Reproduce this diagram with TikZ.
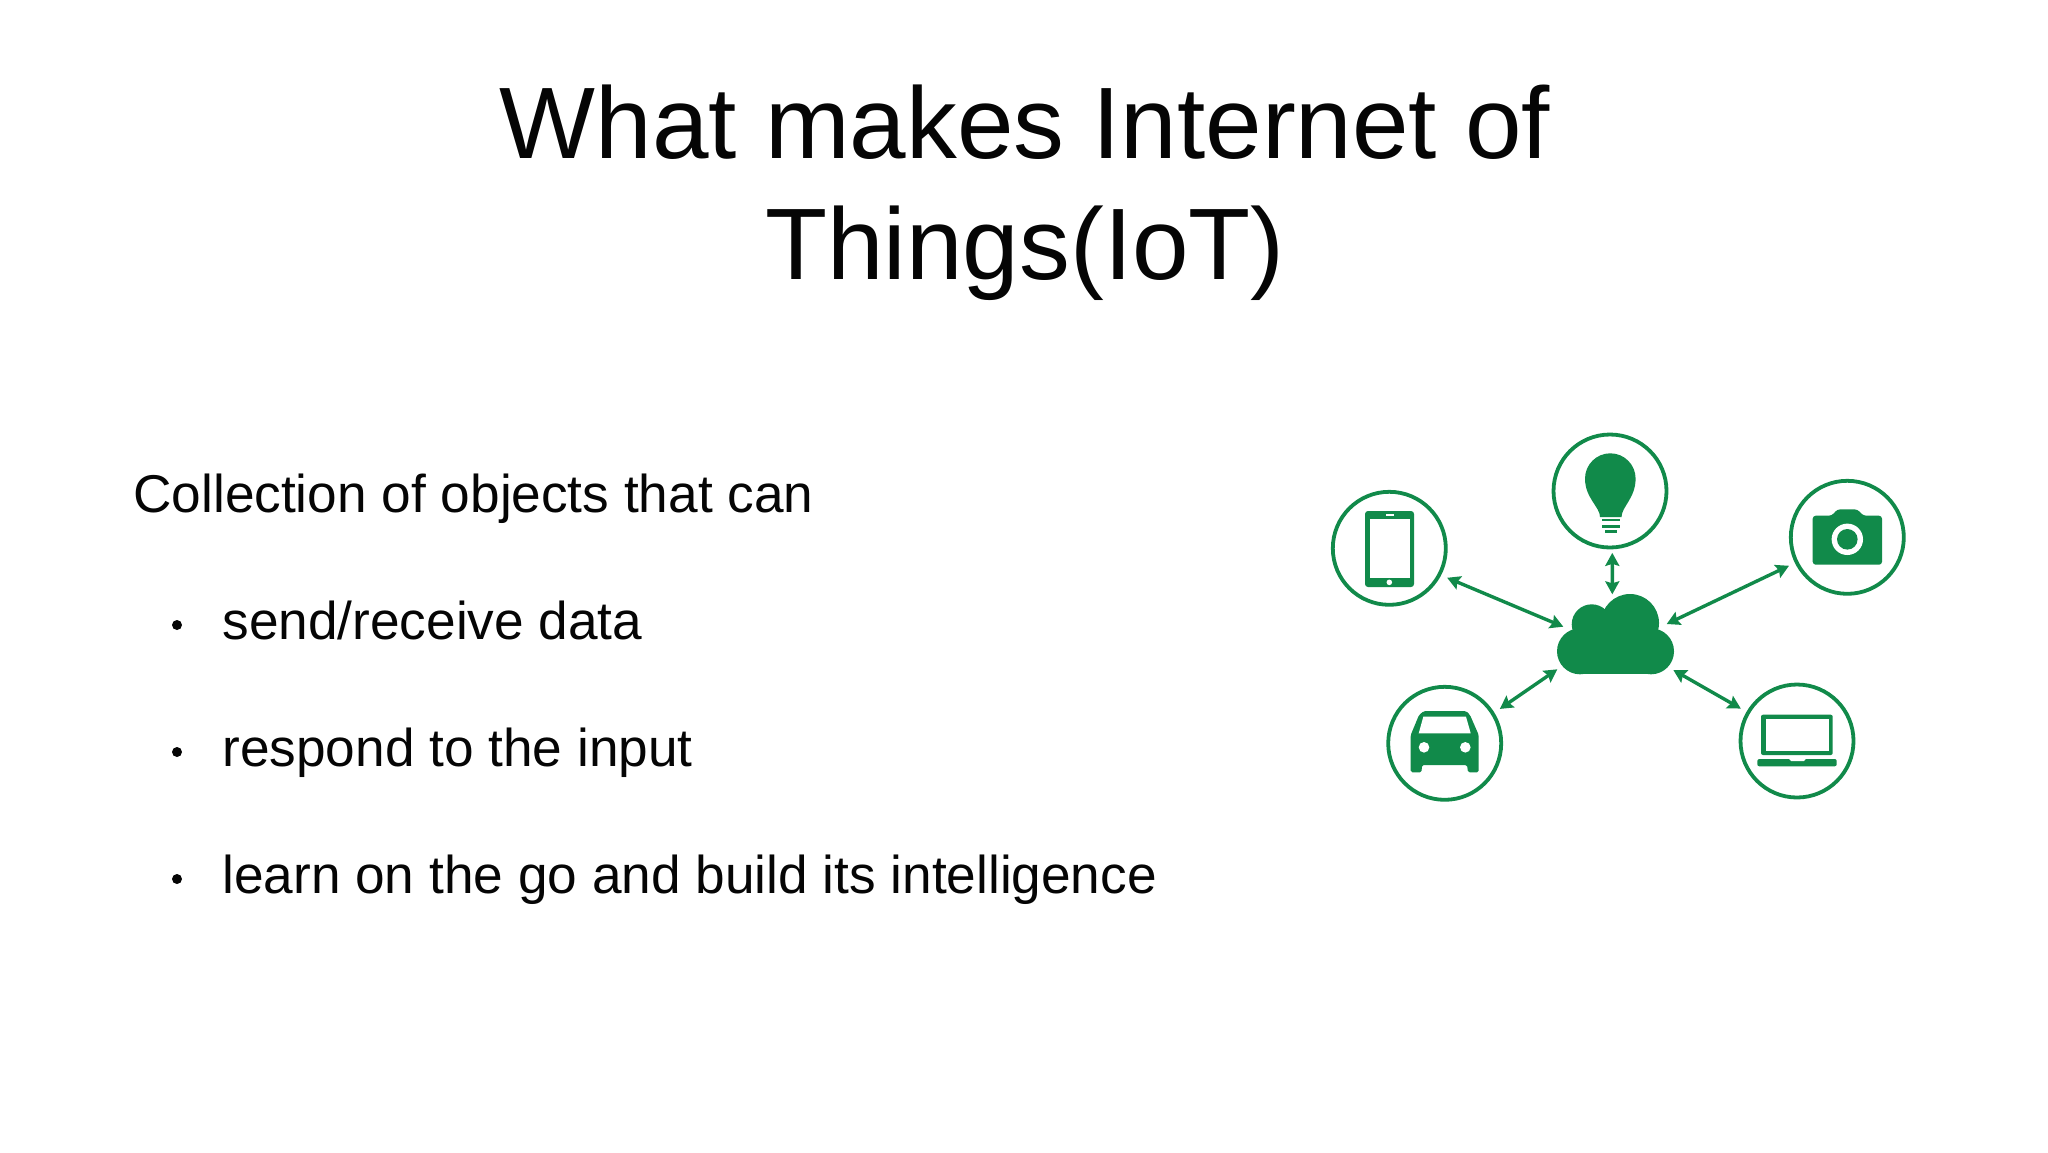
\documentclass[tikz,border=0pt]{standalone}
\usepackage{fontspec}
\setmainfont{Liberation Sans}
\usetikzlibrary{arrows.meta}
\definecolor{iotgreen}{HTML}{118A4A}
\definecolor{slideink}{HTML}{050505}
\tikzset{
  headline/.style={text=slideink,font=\fontsize{50.8pt}{60.3pt}\selectfont,align=center},
  bodyline/.style={text=slideink,anchor=base west,inner sep=0pt,font=\fontsize{26.6pt}{31pt}\selectfont},
  dotmark/.style={circle,fill=slideink,inner sep=0pt,minimum size=5pt},
  device/.style={circle,draw=iotgreen,line width=1.9pt,minimum size=56.5pt,outer sep=4.2pt,inner sep=0pt},
  link/.style={iotgreen,line width=1.7pt,{Stealth[length=6.5pt,width=7pt,inset=1pt]}-{Stealth[length=6.5pt,width=7pt,inset=1pt]}},
}
\begin{document}
\begin{tikzpicture}[x=0.5pt,y=-0.5pt]
\useasboundingbox (0,0) rectangle (2048,1152);
\fill[white] (0,0) rectangle (2048,1152);
% text
\node[headline] (title) at (1025,193) {What makes Internet of\\Things(IoT)};
\node[bodyline] (lead) at (133,512) {Collection of objects that can};
\node[bodyline] (send) at (222,639) {send/receive data};
\node[bodyline] (respond) at (222,766) {respond to the input};
\node[bodyline] (learn) at (222,893) {learn on the go and build its intelligence};
\node[dotmark] (dotsend) at (177,625) {};
\node[dotmark] (dotrespond) at (177,752) {};
\node[dotmark] (dotlearn) at (177,879) {};
% devices
\node[device] (tablet) at (1389.3,548.3) {};
\node[device] (bulb) at (1610,491) {};
\node[device] (camera) at (1847.3,537.3) {};
\node[device] (car) at (1444.7,743.3) {};
\node[device] (laptop) at (1797,741) {};
% tablet
\fill[iotgreen,rounded corners=1.5pt] (1365,511) rectangle (1414,587);
\fill[white] (1369.5,519) rectangle (1409.5,578);
\fill[white] (1385.5,514.3) rectangle (1394,516);
\fill[white] (1389.3,582.3) circle (2.8);
% bulb
\fill[iotgreen] (1600,517) .. controls (1600,507) and (1585,498) .. (1585,478.6)
  arc (180:360:25.3) .. controls (1635.6,498) and (1621.5,507) .. (1621.5,517) -- cycle;
\foreach \y/\a/\b in {518.5/1602/1620,525/1602/1620,530/1605/1617}
  \fill[iotgreen] (\a,\y) rectangle (\b,\y+2.6);
% camera
\fill[iotgreen,rounded corners=1.5pt] (1812.7,515.7) -- (1831.7,515.7) -- (1837.3,509.3) -- (1857.3,509.3)
  -- (1863.3,515.7) -- (1882,515.7) -- (1882,564.7) -- (1812.7,564.7) -- cycle;
\fill[white] (1847.3,539.3) circle (15.7);
\fill[iotgreen] (1847.3,539.3) circle (10.3);
% car
\fill[iotgreen,rounded corners=0.8pt] (1424,711) -- (1466,711) -- (1470,715) -- (1478.7,735) -- (1478.7,772.3)
  -- (1468,772.3) -- (1467,765) -- (1422,765) -- (1421.5,772.3) -- (1410.7,772.3) -- (1410.7,735) -- (1419,715) -- cycle;
\fill[white] (1423.3,716.7) -- (1466,716.7) -- (1470.7,733.3) -- (1418.7,733.3) -- cycle;
\fill[white] (1424,747.3) circle (5.3);
\fill[white] (1465.3,747.3) circle (5.3);
% laptop
\fill[iotgreen,rounded corners=1pt] (1761,714.7) rectangle (1832.7,755);
\fill[white] (1765.7,719) rectangle (1828.7,750.7);
\fill[iotgreen,rounded corners=1pt] (1757.3,759) rectangle (1836.7,766.3);
\fill[white] (1789,759) -- (1805.7,759) -- (1804,761) -- (1791,761) -- cycle;
% cloud
\fill[iotgreen] (1630,623) circle (29);
\fill[iotgreen] (1591.7,624.3) circle (20);
\fill[iotgreen] (1580,651.3) circle (23);
\fill[iotgreen] (1651,651.3) circle (23);
\fill[iotgreen] (1580,625) rectangle (1651,674.3);
\coordinate (cloudtablet) at (1563.3,626.7);
\coordinate (cloudbulb) at (1612.3,594.3);
\coordinate (cloudcamera) at (1666.7,624);
\coordinate (cloudcar) at (1557.3,669.3);
\coordinate (cloudlaptop) at (1673.3,670);
% links
\draw[link] (tablet.-27) -- (cloudtablet);
\draw[link,shorten <=-1.5pt] (bulb.-88) -- (cloudbulb);
\draw[link] (camera.206) -- (cloudcamera);
\draw[link] (car.32) -- (cloudcar);
\draw[link] (laptop.150) -- (cloudlaptop);
\end{tikzpicture}
\end{document}
